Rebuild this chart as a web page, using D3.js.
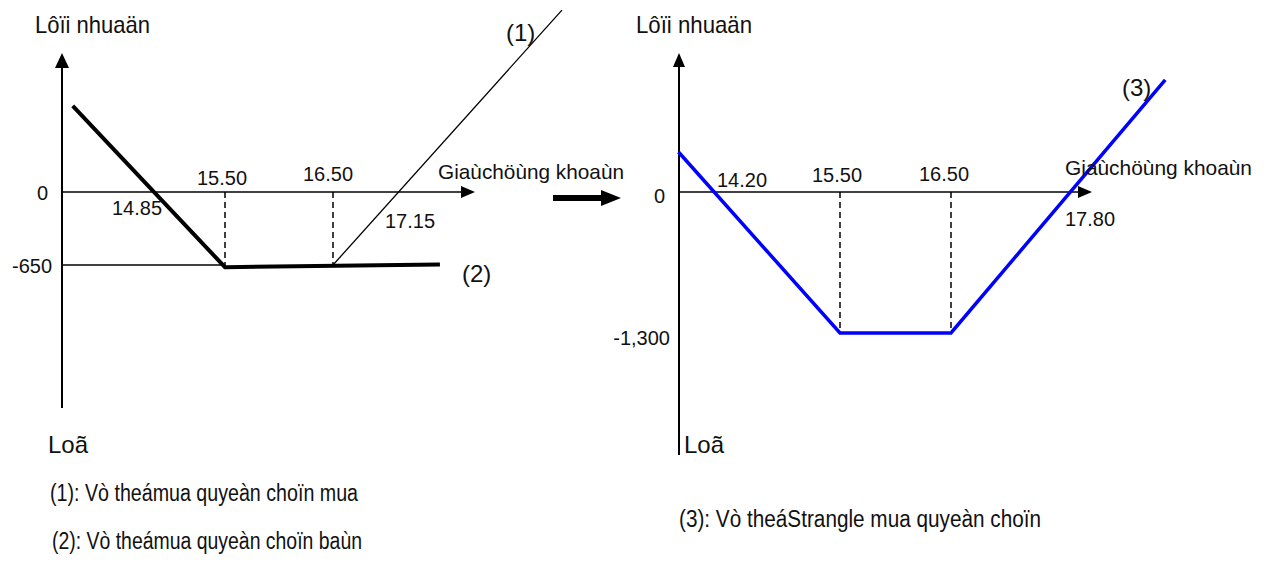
<!DOCTYPE html>
<html><head><meta charset="utf-8">
<script src="https://cdn.jsdelivr.net/npm/d3@7"></script>
<style>body{margin:0;background:#fff}text{font-family:"Liberation Sans",Arial,sans-serif;fill:#111}</style>
</head><body><svg id="c" width="1269" height="568"></svg>
<script>
// ---- data (left chart) ----
const leftPut = [[14.09, 766], [15.5, -670], [17.49, -645]];      // (2) long put
const leftCall = [[16.5, -650], [18.62, 1620]];                     // (1) long call
const leftPriceTicks = [15.5, 16.5];
const leftPriceLabels = ["15.50", "16.50"];
const leftBreakLabels = ["14.85", "17.15"];
const leftProfitTicks = [0, -650];
const leftProfitLabels = ["0", "-650"];
// ---- data (right chart) ----
const strangle = [[14.045, 369], [15.5, -1300], [16.5, -1300], [18.43, 1033]]; // (3)
const rightPriceTicks = [15.5, 16.5];
const rightPriceLabels = ["15.50", "16.50"];
const rightBreakLabels = ["14.20", "17.80"];
const rightProfitTicks = [0, -1300];
const rightProfitLabels = ["0", "-1,300"];
// ---- texts ----
const yTitle = "Lôïi nhuaän";
const xTitle = "Giaùchöùng khoaùn";
const lossTitle = "Loã";
const legendLeft = ["(1): Vò theámua quyeàn choïn mua", "(2): Vò theámua quyeàn choïn baùn"];
const legendRight = ["(3): Vò theáStrangle mua quyeàn choïn"];

const svg = d3.select("#c");

function arrowLine(x1,y1,x2,y2,w,head){
  const ang=Math.atan2(y2-y1,x2-x1), L=head[0], H=head[1];
  const bx=x2-L*Math.cos(ang), by=y2-L*Math.sin(ang);
  svg.append("line").attr("x1",x1).attr("y1",y1).attr("x2",bx).attr("y2",by).attr("stroke","#000").attr("stroke-width",w);
  const px=-Math.sin(ang)*H/2, py=Math.cos(ang)*H/2;
  svg.append("path").attr("d",`M${x2},${y2}L${bx+px},${by+py}L${bx-px},${by-py}Z`).attr("fill","#000");
}
function txt(x,y,s,size,opts={}){
  const t=svg.append("text").attr("x",x).attr("y",y).attr("font-size",size).text(s);
  if(opts.anchor) t.attr("text-anchor",opts.anchor);
  if(opts.len) t.attr("textLength",opts.len).attr("lengthAdjust","spacingAndGlyphs");
  return t;
}

// ---------- LEFT ----------
const xL = d3.scaleLinear().domain([15.5,16.5]).range([225,333]);
const yL = d3.scaleLinear().domain([0,-650]).range([192,265]);
const axL = 62;
arrowLine(axL,408,axL,53,2,[15,14]);
arrowLine(axL,yL(0),475,yL(0),1.5,[14,12]);
svg.append("line").attr("x1",axL).attr("x2",xL(15.5)).attr("y1",yL(-650)).attr("y2",yL(-650)).attr("stroke","#000").attr("stroke-width",1.5);
leftPriceTicks.forEach(p=>{
  svg.append("line").attr("x1",xL(p)).attr("x2",xL(p)).attr("y1",yL(0)).attr("y2",yL(-650))
    .attr("stroke","#000").attr("stroke-width",1.5).attr("stroke-dasharray","6,4");
});
const lineL = d3.line().x(d=>xL(d[0])).y(d=>yL(d[1]));
svg.append("path").attr("d",lineL(leftCall)).attr("fill","none").attr("stroke","#000").attr("stroke-width",1.3);
svg.append("path").attr("d",lineL(leftPut)).attr("fill","none").attr("stroke","#000").attr("stroke-width",4);

txt(35,33,yTitle,24,{len:115});
txt(48,yL(0)+8,leftProfitLabels[0],20,{anchor:"end"});
txt(52,yL(-650)+8,leftProfitLabels[1],20,{anchor:"end"});
txt(222,185,leftPriceLabels[0],20,{anchor:"middle"});
txt(328,181,leftPriceLabels[1],20,{anchor:"middle"});
txt(137,215,leftBreakLabels[0],20,{anchor:"middle"});
txt(410,228,leftBreakLabels[1],20,{anchor:"middle"});
txt(438,179,xTitle,21,{len:186});
txt(506,41,"(1)",24);
txt(462,282,"(2)",24);
txt(48,453,lossTitle,24);
txt(50,501,legendLeft[0],23,{len:308});
txt(52,549,legendLeft[1],23,{len:310});

// middle arrow
arrowLine(553,198,621,198,6,[20,16]);

// ---------- RIGHT ----------
const xR = d3.scaleLinear().domain([15.5,16.5]).range([840,951]);
const yR = d3.scaleLinear().domain([0,-1300]).range([192,333]);
const axR = 679;
arrowLine(axR,455,axR,53,2,[14,12]);
arrowLine(axR,yR(0),1092,yR(0),1.5,[14,12]);
rightPriceTicks.forEach(p=>{
  svg.append("line").attr("x1",xR(p)).attr("x2",xR(p)).attr("y1",yR(0)).attr("y2",yR(-1300))
    .attr("stroke","#000").attr("stroke-width",1.5).attr("stroke-dasharray","6,4");
});
const lineR = d3.line().x(d=>xR(d[0])).y(d=>yR(d[1]));
svg.append("path").attr("d",lineR(strangle)).attr("fill","none").attr("stroke","#0000ff").attr("stroke-width",3.5);

txt(636,33,yTitle,24,{len:116});
txt(665,yR(0)+11,rightProfitLabels[0],20,{anchor:"end"});
txt(670,345,rightProfitLabels[1],20,{anchor:"end"});
txt(742,187,rightBreakLabels[0],20,{anchor:"middle"});
txt(837,182,rightPriceLabels[0],20,{anchor:"middle"});
txt(944,181,rightPriceLabels[1],20,{anchor:"middle"});
txt(1090,226,rightBreakLabels[1],20,{anchor:"middle"});
txt(1065,175,xTitle,21,{len:187});
txt(1122,96,"(3)",24);
txt(684,453,lossTitle,24);
txt(679,527,legendRight[0],23,{len:362});
</script></body></html>
